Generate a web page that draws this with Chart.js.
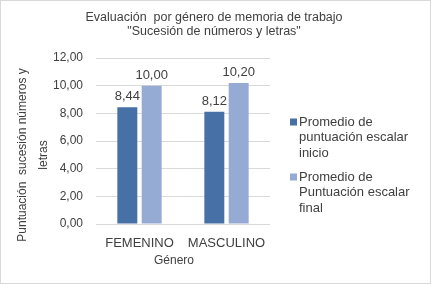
<!DOCTYPE html>
<html>
<head>
<meta charset="utf-8">
<script src="https://cdn.jsdelivr.net/npm/chart.js@4/dist/chart.umd.min.js"></script>
<style>
  html, body { margin: 0; padding: 0; background: #fff; }
  #wrap { width: 431px; height: 284px; }
</style>
</head>
<body>
<div id="wrap"><canvas id="chart" width="431" height="284"></canvas></div>
<script>
const categories = ['FEMENINO', 'MASCULINO'];
const inicioValues = [8.44, 8.12];
const finalValues = [10.0, 10.2];
const inicioLabel = ['Promedio de', 'puntuación escalar', 'inicio'];
const finalLabel = ['Promedio de', 'Puntuación escalar', 'final'];
const titleLines = ['Evaluación  por género de memoria de trabajo', '"Sucesión de números y letras"'];
const yTitleLines = ['Puntuación  sucesión números y', 'letras'];
const xTitle = 'Género';

const fmt = (v) => v.toFixed(2).replace('.', ',');
const FONT = "'Liberation Sans', Arial, sans-serif";
const TEXT = '#404040';
Chart.defaults.font.family = FONT;
Chart.defaults.color = TEXT;

// frame, title, axis titles and legend are drawn by hand, Excel-style
const decorations = {
  id: 'decorations',
  beforeDraw(chart) {
    const { ctx, width, height } = chart;
    ctx.save();
    ctx.fillStyle = '#fff';
    ctx.fillRect(0, 0, width, height);
    ctx.strokeStyle = '#d9d9d9';
    ctx.lineWidth = 1;
    ctx.strokeRect(0.5, 0.5, width - 1, height - 1);
    ctx.restore();
  },
  afterDraw(chart) {
    const { ctx, chartArea } = chart;
    ctx.save();
    ctx.fillStyle = TEXT;
    ctx.textBaseline = 'middle';

    // title
    ctx.font = '12.5px ' + FONT;
    ctx.textAlign = 'center';
    titleLines.forEach((t, i) => ctx.fillText(t, 214, 18 + i * 13.5));

    // x title
    ctx.font = '12px ' + FONT;
    ctx.fillText(xTitle, 174, 261);

    // y title (rotated)
    ctx.save();
    ctx.translate(0, 155);
    ctx.rotate(-Math.PI / 2);
    ctx.font = '12px ' + FONT;
    yTitleLines.forEach((t, i) => ctx.fillText(t, 0, 23 + i * 21));
    ctx.restore();

    // legend
    ctx.textAlign = 'left';
    ctx.font = '13px ' + FONT;
    const x0 = chartArea.right + 20;
    let y = 122;
    chart.data.datasets.forEach((ds) => {
      ctx.fillStyle = ds.backgroundColor;
      ctx.fillRect(x0, y - 3.5, 7, 7);
      ctx.fillStyle = TEXT;
      ds.label.forEach((line, i) => ctx.fillText(line, x0 + 9, y + i * 15.5));
      y += 55;
    });
    ctx.restore();
  },
};

const valueLabels = {
  id: 'valueLabels',
  afterDatasetsDraw(chart) {
    const { ctx } = chart;
    ctx.save();
    ctx.font = '13px ' + FONT;
    ctx.fillStyle = TEXT;
    ctx.textAlign = 'center';
    ctx.textBaseline = 'bottom';
    chart.data.datasets.forEach((ds, i) => {
      chart.getDatasetMeta(i).data.forEach((bar, j) => {
        ctx.fillText(fmt(ds.data[j]), bar.x, bar.y - 4);
      });
    });
    ctx.restore();
  },
};

new Chart(document.getElementById('chart'), {
  type: 'bar',
  data: {
    labels: categories,
    datasets: [
      { label: inicioLabel, data: inicioValues, backgroundColor: '#4670a6', barPercentage: 0.82, categoryPercentage: 0.56 },
      { label: finalLabel, data: finalValues, backgroundColor: '#96abd3', barPercentage: 0.82, categoryPercentage: 0.56 },
    ],
  },
  options: {
    responsive: false,
    animation: false,
    layout: { padding: { left: 10, right: 161, top: 58, bottom: 28 } },
    plugins: {
      title: { display: false },
      legend: { display: false },
      tooltip: { enabled: false },
    },
    scales: {
      x: {
        grid: { display: false },
        border: { display: false },
        ticks: { font: { size: 13 }, color: TEXT, padding: 4, maxRotation: 0 },
        afterFit: (scale) => { scale.height = 32; },
      },
      y: {
        min: 0,
        max: 12,
        ticks: { stepSize: 2, callback: (v) => fmt(v), font: { size: 12 }, color: TEXT, padding: 13 },
        grid: { color: '#d9d9d9', drawTicks: false },
        border: { display: false },
        afterFit: (scale) => { scale.width = 86; },
      },
    },
  },
  plugins: [decorations, valueLabels],
});
</script>
</body>
</html>
